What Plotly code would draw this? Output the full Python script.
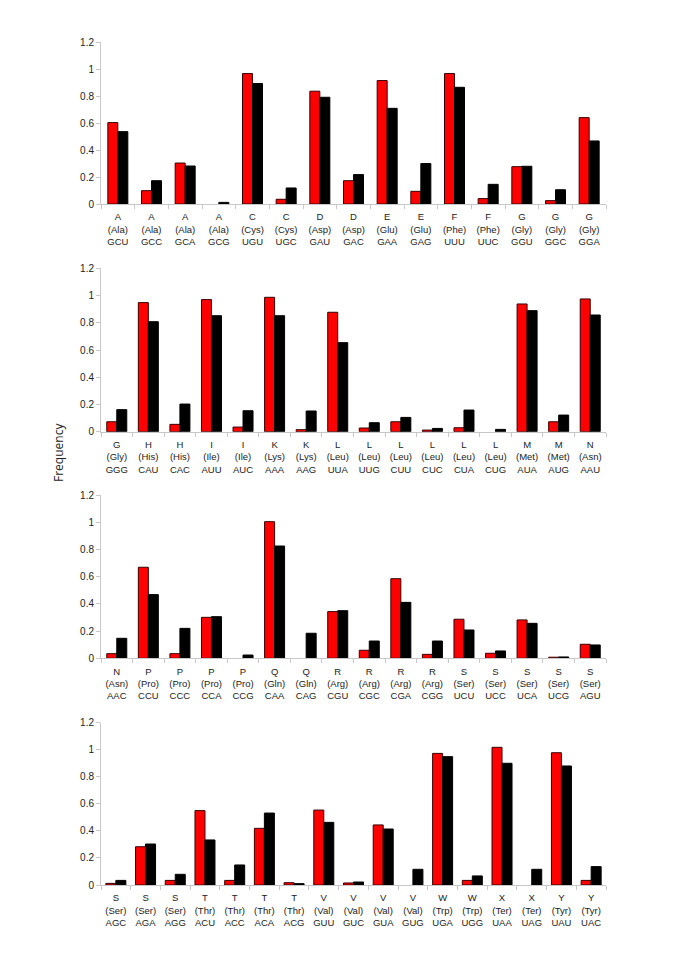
import plotly.graph_objects as go

W, H = 685, 968

# Panel 1
p1_labels = ["A<br>(Ala)<br>GCU", "A<br>(Ala)<br>GCC", "A<br>(Ala)<br>GCA", "A<br>(Ala)<br>GCG",
             "C<br>(Cys)<br>UGU", "C<br>(Cys)<br>UGC", "D<br>(Asp)<br>GAU", "D<br>(Asp)<br>GAC",
             "E<br>(Glu)<br>GAA", "E<br>(Glu)<br>GAG", "F<br>(Phe)<br>UUU", "F<br>(Phe)<br>UUC",
             "G<br>(Gly)<br>GGU", "G<br>(Gly)<br>GGC", "G<br>(Gly)<br>GGA"]
p1_red = [0.604, 0.099, 0.304, 0.0, 0.968, 0.035, 0.837, 0.173, 0.916, 0.094, 0.968, 0.040, 0.277, 0.025, 0.641]
p1_black = [0.537, 0.173, 0.282, 0.012, 0.894, 0.119, 0.792, 0.218, 0.710, 0.300, 0.866, 0.146, 0.280, 0.106, 0.468]

# Panel 2
p2_labels = ["G<br>(Gly)<br>GGG", "H<br>(His)<br>CAU", "H<br>(His)<br>CAC", "I<br>(Ile)<br>AUU",
             "I<br>(Ile)<br>AUC", "K<br>(Lys)<br>AAA", "K<br>(Lys)<br>AAG", "L<br>(Leu)<br>UUA",
             "L<br>(Leu)<br>UUG", "L<br>(Leu)<br>CUU", "L<br>(Leu)<br>CUC", "L<br>(Leu)<br>CUA",
             "L<br>(Leu)<br>CUG", "M<br>(Met)<br>AUA", "M<br>(Met)<br>AUG", "N<br>(Asn)<br>AAU"]
p2_red = [0.073, 0.948, 0.054, 0.970, 0.034, 0.987, 0.015, 0.877, 0.027, 0.073, 0.012, 0.029, 0.0, 0.938, 0.073, 0.975]
p2_black = [0.162, 0.808, 0.203, 0.852, 0.154, 0.852, 0.152, 0.654, 0.066, 0.105, 0.024, 0.159, 0.017, 0.889, 0.122, 0.857]

# Panel 3
p3_labels = ["N<br>(Asn)<br>AAC", "P<br>(Pro)<br>CCU", "P<br>(Pro)<br>CCC", "P<br>(Pro)<br>CCA",
             "P<br>(Pro)<br>CCG", "Q<br>(Gln)<br>CAA", "Q<br>(Gln)<br>CAG", "R<br>(Arg)<br>CGU",
             "R<br>(Arg)<br>CGC", "R<br>(Arg)<br>CGA", "R<br>(Arg)<br>CGG", "S<br>(Ser)<br>UCU",
             "S<br>(Ser)<br>UCC", "S<br>(Ser)<br>UCA", "S<br>(Ser)<br>UCG", "S<br>(Ser)<br>AGU"]
p3_red = [0.034, 0.669, 0.034, 0.301, 0.0, 1.004, 0.0, 0.343, 0.059, 0.585, 0.029, 0.287, 0.037, 0.282, 0.008, 0.103]
p3_black = [0.147, 0.468, 0.220, 0.306, 0.024, 0.825, 0.184, 0.350, 0.127, 0.411, 0.127, 0.208, 0.054, 0.257, 0.010, 0.098]

# Panel 4
p4_labels = ["S<br>(Ser)<br>AGC", "S<br>(Ser)<br>AGA", "S<br>(Ser)<br>AGG", "T<br>(Thr)<br>ACU",
             "T<br>(Thr)<br>ACC", "T<br>(Thr)<br>ACA", "T<br>(Thr)<br>ACG", "V<br>(Val)<br>GUU",
             "V<br>(Val)<br>GUC", "V<br>(Val)<br>GUA", "V<br>(Val)<br>GUG", "W<br>(Trp)<br>UGA",
             "W<br>(Trp)<br>UGG", "X<br>(Ter)<br>UAA", "X<br>(Ter)<br>UAG", "Y<br>(Tyr)<br>UAU",
             "Y<br>(Tyr)<br>UAC"]
p4_red = [0.012, 0.283, 0.034, 0.550, 0.034, 0.419, 0.017, 0.554, 0.015, 0.444, 0.0, 0.973, 0.034, 1.018, 0.0, 0.978, 0.034]
p4_black = [0.034, 0.303, 0.079, 0.333, 0.148, 0.532, 0.010, 0.463, 0.022, 0.414, 0.116, 0.949, 0.067, 0.900, 0.116, 0.880, 0.136]

panels = [(p1_labels, p1_red, p1_black), (p2_labels, p2_red, p2_black),
          (p3_labels, p3_red, p3_black), (p4_labels, p4_red, p4_black)]

y_tick_vals = [0, 0.2, 0.4, 0.6, 0.8, 1.0, 1.2]
y_tick_text = ["0", "0.2", "0.4", "0.6", "0.8", "1", "1.2"]

# pixel layout: (top, bottom) of each plot area
rows_px = [(42.3, 204.0), (268.3, 431.7), (495.0, 658.3), (722.7, 885.0)]
x_left, x_right = 101.0, 606.0
bar_px = 10.0

fig = go.Figure()
font_family = "Liberation Sans, Arial, sans-serif"

for i, (labels, red, black) in enumerate(panels):
    n = i + 1
    xa = "x" if n == 1 else f"x{n}"
    ya = "y" if n == 1 else f"y{n}"
    ncat = len(labels)
    cat_px = (x_right - x_left) / ncat
    bw = bar_px / cat_px
    red_plot = [v if v > 0 else None for v in red]
    fig.add_trace(go.Bar(x=labels, y=red_plot, xaxis=xa, yaxis=ya, width=bw, offset=-bw,
                         marker=dict(color="#ff0000", line=dict(color="#3a0000", width=1)),
                         showlegend=False, name="red"))
    fig.add_trace(go.Bar(x=labels, y=black, xaxis=xa, yaxis=ya, width=bw, offset=0,
                         marker=dict(color="#000000", line=dict(color="#000000", width=1)),
                         showlegend=False, name="black"))
    top, bot = rows_px[i]
    xkey = "xaxis" if n == 1 else f"xaxis{n}"
    ykey = "yaxis" if n == 1 else f"yaxis{n}"
    fig.layout[xkey] = dict(domain=[x_left / W, x_right / W], anchor=ya,
                            type="category", showline=True, linecolor="#c8c8c8", linewidth=1,
                            ticks="outside", tickson="boundaries", ticklen=4, tickcolor="#c8c8c8",
                            tickangle=0, ticklabelstandoff=4, automargin=False,
                            tickfont=dict(family=font_family, size=9.5, color="#222222"),
                            showgrid=False, zeroline=False, fixedrange=True)
    fig.layout[ykey] = dict(domain=[1 - bot / H, 1 - top / H], anchor=xa,
                            range=[0, 1.2], tickvals=y_tick_vals, ticktext=y_tick_text,
                            showline=True, linecolor="#c8c8c8", linewidth=1,
                            ticks="outside", ticklen=4, tickcolor="#c8c8c8", automargin=False,
                            tickfont=dict(family=font_family, size=10, color="#222222"),
                            showgrid=False, zeroline=False, fixedrange=True)

fig.add_annotation(text="Frequency", x=58 / W, y=1 - 453 / H, xref="paper", yref="paper",
                   xanchor="center", yanchor="middle",
                   textangle=-90, showarrow=False,
                   font=dict(family="Open Sans, Liberation Sans, sans-serif", size=12, color="#222222"))

fig.update_layout(width=W, height=H, margin=dict(l=0, r=0, t=0, b=0, pad=0),
                  paper_bgcolor="white", plot_bgcolor="white",
                  barmode="overlay")

fig.write_html("out.html", config={"displayModeBar": False},
               post_script="document.body.style.margin='0';document.body.style.overflow='hidden';")
